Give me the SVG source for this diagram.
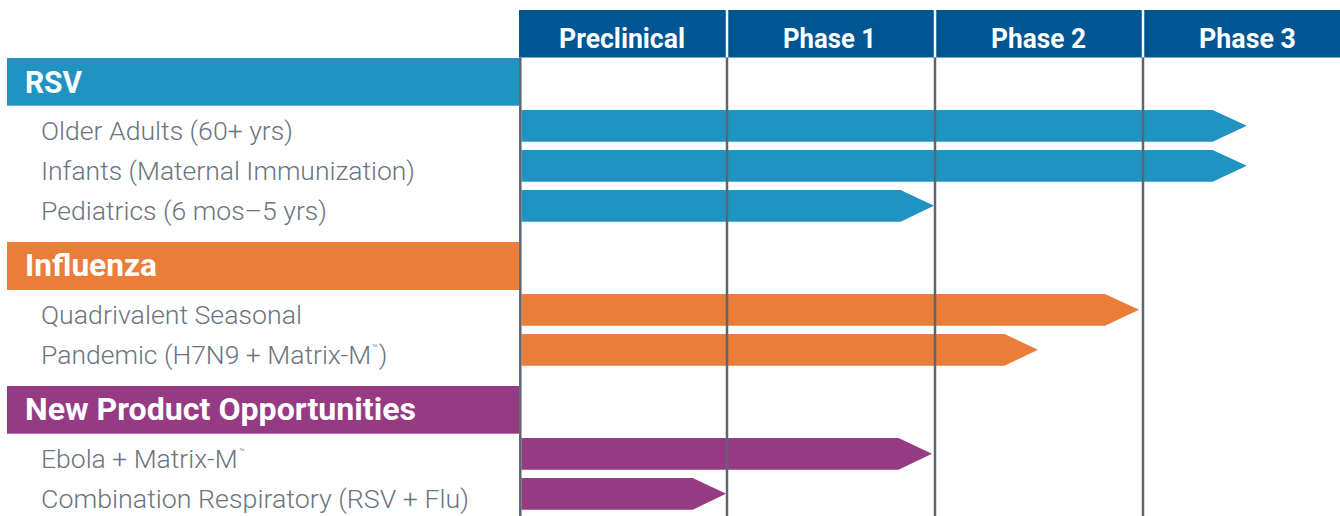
<svg xmlns="http://www.w3.org/2000/svg" width="1340" height="516" viewBox="0 0 1340 516">
<style>
.hdr{fill:#005593}
.hdrt{font-family:Roboto,"Liberation Sans",sans-serif;font-weight:700;font-size:27px;fill:#fff;text-anchor:middle}
.cat{font-family:Roboto,"Liberation Sans",sans-serif;font-weight:700;font-size:31px;fill:#fff}
.item{font-family:Roboto,"Liberation Sans",sans-serif;font-weight:300;font-size:26.5px;fill:#6b7480}
.tm{font-size:9px}
.rsv{fill:#2093c3}
.flu{fill:#ea7d38}
.npo{fill:#973a84}
.div{stroke:#5d6670;stroke-width:2.5;fill:none}
.sep{stroke:#fff;stroke-width:2.5;fill:none}
</style>
<rect width="1340" height="516" fill="#fff"/>
<g id="header">
<rect class="hdr" x="519" y="10" width="821" height="47.5"/>
<line class="sep" x1="727" y1="10" x2="727" y2="57.5"/>
<line class="sep" x1="935" y1="10" x2="935" y2="57.5"/>
<line class="sep" x1="1143" y1="10" x2="1143" y2="57.5"/>
<text class="hdrt" x="622" y="48.3" textLength="126" lengthAdjust="spacingAndGlyphs">Preclinical</text>
<text class="hdrt" x="829.5" y="48.3" textLength="93" lengthAdjust="spacingAndGlyphs">Phase 1</text>
<text class="hdrt" x="1038.5" y="48.3" textLength="95" lengthAdjust="spacingAndGlyphs">Phase 2</text>
<text class="hdrt" x="1247.5" y="48.3" textLength="97" lengthAdjust="spacingAndGlyphs">Phase 3</text>
</g>
<g id="cat-rsv">
<rect class="rsv" x="7" y="58" width="512" height="47.7"/>
<text class="cat" x="25" y="92.7" textLength="57" lengthAdjust="spacingAndGlyphs">RSV</text>
</g>
<g id="cat-flu">
<rect class="flu" x="7" y="242" width="512" height="48"/>
<text class="cat" x="25" y="276" textLength="132" lengthAdjust="spacingAndGlyphs">Influenza</text>
</g>
<g id="cat-npo">
<rect class="npo" x="7" y="386" width="512" height="47.7"/>
<text class="cat" x="25" y="420" textLength="391" lengthAdjust="spacingAndGlyphs">New Product Opportunities</text>
</g>
<g id="labels">
<text class="item" x="41" y="140" textLength="252" lengthAdjust="spacingAndGlyphs">Older Adults (60+ yrs)</text>
<text class="item" x="41" y="180" textLength="374" lengthAdjust="spacingAndGlyphs">Infants (Maternal Immunization)</text>
<text class="item" x="41" y="220" textLength="286" lengthAdjust="spacingAndGlyphs">Pediatrics (6 mos–5 yrs)</text>
<text class="item" x="41" y="324" textLength="261" lengthAdjust="spacingAndGlyphs">Quadrivalent Seasonal</text>
<text class="item" x="41" y="364">Pandemic (H7N9 + Matrix-M<tspan class="tm" dx="1" dy="-13">™</tspan><tspan dx="1" dy="13">)</tspan></text>
<text class="item" x="41" y="468">Ebola + Matrix-M<tspan class="tm" dx="1.5" dy="-13">™</tspan></text>
<text class="item" x="41" y="508" textLength="428" lengthAdjust="spacingAndGlyphs">Combination Respiratory (RSV + Flu)</text>
</g>
<g id="bars">
<polygon class="rsv" points="521.5,110 1212.7,110 1246.7,125.8 1212.7,141.7 521.5,141.7"/>
<polygon class="rsv" points="521.5,150 1212.7,150 1246.7,165.8 1212.7,181.7 521.5,181.7"/>
<polygon class="rsv" points="521.5,190 900.6,190 934,205.8 900.6,221.7 521.5,221.7"/>
<polygon class="flu" points="521.5,294 1105,294 1139,309.8 1105,325.7 521.5,325.7"/>
<polygon class="flu" points="521.5,334 1004.5,334 1038,349.8 1004.5,365.7 521.5,365.7"/>
<polygon class="npo" points="521.5,438 898.5,438 932,453.8 898.5,469.7 521.5,469.7"/>
<polygon class="npo" points="521.5,478 692.8,478 726,493.8 692.8,509.7 521.5,509.7"/>
</g>
<g id="connectors">
<line class="div" x1="520.3" y1="57.5" x2="520.3" y2="516"/>
<line class="div" x1="727" y1="57.5" x2="727" y2="516"/>
<line class="div" x1="935" y1="57.5" x2="935" y2="516"/>
<line class="div" x1="1143" y1="57.5" x2="1143" y2="516"/>
</g>
</svg>
